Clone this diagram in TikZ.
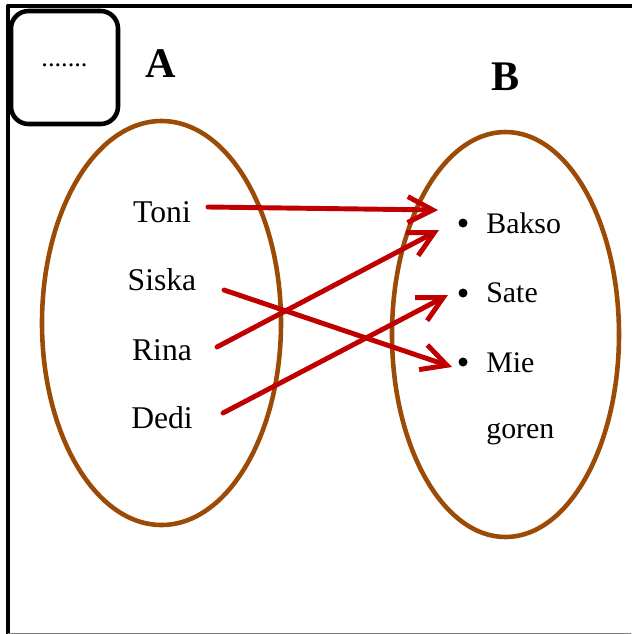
\documentclass[tikz,border=0pt]{standalone}
\usepackage{fontspec}
\setmainfont{Liberation Serif}
\usetikzlibrary{arrows.meta,shapes.geometric}
\definecolor{setbrown}{RGB}{155,75,5}
\definecolor{maparrow}{RGB}{192,0,0}
\begin{document}
\begin{tikzpicture}[x=0.2mm, y=-0.2mm, line join=round, line cap=round, >={Straight Barb[length=5mm,width=5.2mm]}]
			\tikzset{every node/.style={font=\fontsize{18}{22}\selectfont},
				himp/.style={draw=setbrown, line width=2.6pt, ellipse, inner sep=0pt},
				elem/.style={anchor=base, inner sep=0pt},
				titik/.style={circle, fill=black, minimum size=1.8mm, inner sep=0pt},
				judul/.style={anchor=base, inner sep=0pt, font=\bfseries\fontsize{24}{28}\selectfont},
				panah/.style={->, draw=maparrow, line width=2.8pt}}
			\useasboundingbox (0,0) rectangle (631,634);
			\draw[line width=2.8pt] (8,634) -- (8,6) -- (631,6);
			\draw[gray, line width=0.4pt] (8,633) -- (631,633);
			\node[draw, line width=2.6pt, rounded corners=3.5mm, minimum width=21.4mm, minimum height=22.6mm, font=\fontsize{15}{18}\selectfont] (kotak) at (64.5,67.5) {\raisebox{1mm}{.......}};
			\node[judul] (judulA) at (161,77) {A};
			\node[judul] (judulB) at (506,90) {B};
			\node[himp, minimum width=47.8mm, minimum height=80.8mm] (setA) at (161.5,323) {};
			\node[himp, minimum width=45.4mm, minimum height=81mm] (setB) at (505.5,334.5) {};
			\foreach \nm/\txt/\y in {toni/Toni/222, siska/Siska/290, rina/Rina/360, dedi/Dedi/428}
				\node[elem] (\nm) at (162,\y) {\txt};
			\foreach \nm/\txt/\y/\b in {bakso/Bakso/223/233, sate/Sate/293/302, mie/Mie/362/372} {
				\node[titik] (\nm) at (463,\y) {};
				\node[elem, anchor=base west, font=\fontsize{17}{20}\selectfont] (\nm-txt) at (486,\b) {\txt};
			}
			\node[elem, anchor=base west, font=\fontsize{17}{20}\selectfont] (goren) at (486,438) {goren};
			\draw[panah] ([shift={(46,-15)}]toni.base) -- ([shift={(-25,-13)}]bakso.center);
			\draw[panah] ([shift={(62,0)}]siska.base) -- ([shift={(-11,5)}]mie.center);
			\draw[panah] ([shift={(55,-13)}]rina.base) -- ([shift={(-24,7)}]bakso.center);
			\draw[panah] ([shift={(61,-15)}]dedi.base) -- ([shift={(-15,2)}]sate.center);
	\end{tikzpicture}
\end{document}
